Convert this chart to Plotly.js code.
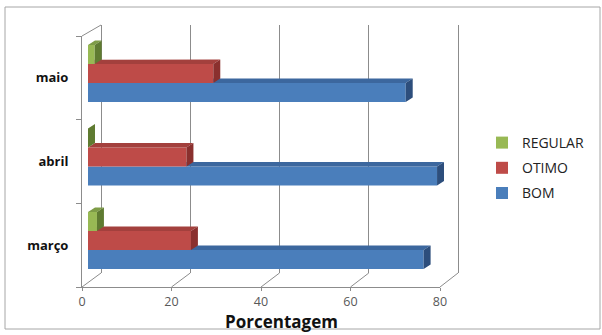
<!DOCTYPE html>
<html><head><meta charset="utf-8">
<script src="https://cdn.plot.ly/plotly-3.0.1.min.js"></script>
<style>html,body{margin:0;padding:0;background:#fff}#chart{width:602px;height:335px}</style>
</head><body><div id="chart"></div>
<script>
// ---- data ----
const categories = ['março', 'abril', 'maio'];
const seriesNames = ['BOM', 'OTIMO', 'REGULAR'];
const bom = [75, 78, 71];
const otimo = [23, 22, 28];
const regular = [2, 0, 1.5];
const xTicks = [0, 20, 40, 60, 80];
const xTitle = 'Porcentagem';

// ---- styling / geometry ----
const W = 602, H = 335;
const px = v => v / W;
const py = v => (H - v) / H;
const FONT = '"Open Sans", "Liberation Sans", sans-serif';

const frontColors = ['#4A7EBB', '#BE4B48', '#98B954'];
const topColors   = ['#3C679E', '#A3403D', '#7E9C47'];
const sideColors  = ['#2D4E7C', '#8A302E', '#5F7B31'];

const series = [bom, otimo, regular];
const nS = series.length;
const barW = 0.2276;
const groupStart = -nS * barW / 2;
const ddx = 1.56, ddy = 0.054;   // bar depth in data units

function clipLeft(poly, a) { // keep x >= a
  const out = [];
  for (let i = 0; i < poly.length; i++) {
    const p = poly[i], q = poly[(i + 1) % poly.length];
    const pin = p[0] >= a, qin = q[0] >= a;
    if (pin) out.push(p);
    if (pin !== qin) {
      const t = (a - p[0]) / (q[0] - p[0]);
      out.push([a, p[1] + t * (q[1] - p[1])]);
    }
  }
  return out;
}

const traces = [];
// empty carrier trace so the back-wall subplot is drawn
traces.push({type: 'scatter', x: [], y: [], xaxis: 'x', yaxis: 'y', showlegend: false, hoverinfo: 'skip'});
// front faces: real bar traces
for (let k = 0; k < nS; k++) {
  traces.push({
    type: 'bar', orientation: 'h', name: seriesNames[k],
    legendgroup: seriesNames[k], legendrank: nS - k,
    x: series[k], y: categories.map((c, i) => i),
    xaxis: 'x2', yaxis: 'y2',
    marker: {color: frontColors[k], line: {width: 0}},
    hoverinfo: 'x+name'
  });
}
// 3D faces
for (let k = 0; k < nS; k++) {
  const tx = [], ty = [], sx = [], sy = [];
  categories.forEach((c, i) => {
    const v = series[k][i];
    const y0 = i + groupStart + k * barW, y1 = y0 + barW;
    let top = [[0, y1], [v, y1], [v + ddx, y1 + ddy], [ddx, y1 + ddy]];
    if (k < nS - 1) top = clipLeft(top, series[k + 1][i]);
    if (top.length) {
      top.forEach(p => { tx.push(p[0]); ty.push(p[1]); });
      tx.push(top[0][0]); ty.push(top[0][1]);
      tx.push(null); ty.push(null);
    }
    const side = [[v, y0], [v, y1], [v + ddx, y1 + ddy], [v + ddx, y0 + ddy], [v, y0]];
    side.forEach(p => { sx.push(p[0]); sy.push(p[1]); });
    sx.push(null); sy.push(null);
  });
  traces.push({type: 'scatter', mode: 'lines', x: tx, y: ty, xaxis: 'x2', yaxis: 'y2',
    fill: 'toself', fillcolor: topColors[k], line: {width: 0}, showlegend: false, hoverinfo: 'skip'});
  traces.push({type: 'scatter', mode: 'lines', x: sx, y: sy, xaxis: 'x2', yaxis: 'y2',
    fill: 'toself', fillcolor: sideColors[k], line: {width: 0}, showlegend: false, hoverinfo: 'skip'});
}
// empty carrier trace so the front-axis subplot is drawn
traces.push({type: 'scatter', x: [], y: [], xaxis: 'x3', yaxis: 'y3', showlegend: false, hoverinfo: 'skip'});

// pixel anchors of the frame
const front = {x0: 82, x1: 440, yb: 287, yt: 36};
const back  = {x0: 101, x1: 458, yb: 273, yt: 25};
const pad = 0.3;
const backUnit = (back.x1 - back.x0) / 80;

const shapes = [];
// floor diagonals
const fUnit = (front.x1 - front.x0) / 80;
xTicks.forEach(t => {
  const fx = front.x0 + t * fUnit, bx = back.x0 + t * backUnit;
  shapes.push({type: 'line', xref: 'paper', yref: 'paper', x0: px(fx), y0: py(front.yb), x1: px(bx), y1: py(back.yb),
    line: {color: '#8c8c8c', width: 1}});
});
// top-left wall diagonal
shapes.push({type: 'line', xref: 'paper', yref: 'paper', x0: px(front.x0), y0: py(front.yt), x1: px(back.x0), y1: py(back.yt),
  line: {color: '#8c8c8c', width: 1}});
// outer border
shapes.push({type: 'rect', xref: 'paper', yref: 'paper', x0: px(5), x1: px(600), y0: py(329), y1: py(7),
  line: {color: '#a6a6a6', width: 1}, layer: 'below'});

const layout = {
  width: W, height: H,
  margin: {l: 0, r: 0, t: 0, b: 0},
  paper_bgcolor: '#ffffff', plot_bgcolor: 'rgba(0,0,0,0)',
  font: {family: FONT},
  barmode: 'group', bargap: 1 - nS * barW, bargroupgap: 0,
  showlegend: true,
  legend: {x: px(482), y: py(127), xanchor: 'left', yanchor: 'top', traceorder: 'grouped',
    tracegroupgap: 4,
    font: {size: 14, color: '#222', family: FONT}, bgcolor: 'rgba(0,0,0,0)', itemclick: false},
  // back wall (gridlines)
  xaxis: {domain: [px(back.x0 - pad * backUnit), px(back.x1 + pad * backUnit)], range: [-pad, 80 + pad],
    anchor: 'y', tickvals: xTicks, showticklabels: false, ticks: '', showgrid: true, gridcolor: '#8c8c8c', gridwidth: 1,
    zeroline: false, showline: false, fixedrange: true},
  yaxis: {domain: [py(back.yb), py(back.yt)], range: [0, 1], anchor: 'x', showgrid: false, showticklabels: false,
    ticks: '', zeroline: false, showline: false, fixedrange: true},
  // bars
  xaxis2: {domain: [px(88), px(88 + 80 * fUnit)], range: [0, 80], anchor: 'y2', visible: false, fixedrange: true},
  yaxis2: {domain: [py(282.25), py(31.75)], range: [-0.5, 2.5], anchor: 'x2', visible: false, fixedrange: true},
  // front axes
  xaxis3: {domain: [px(front.x0), px(front.x1)], range: [0, 80], anchor: 'y3', tickvals: xTicks,
    ticks: 'outside', ticklen: 3, tickcolor: '#8c8c8c', showline: true, linecolor: '#8c8c8c', linewidth: 1,
    showgrid: false, zeroline: false, tickfont: {size: 12.5, color: '#595959', family: FONT}, fixedrange: true},
  yaxis3: {domain: [py(front.yb), py(front.yt)], range: [-0.5, 2.5], anchor: 'x3',
    tickmode: 'array', tickvals: categories.map((c, i) => i), ticktext: categories, ticks: '',
    minor: {tickmode: 'array', tickvals: [-0.5, 0.5, 1.5, 2.5], ticks: 'outside', ticklen: 5, tickcolor: '#8c8c8c'},
    ticklabelstandoff: 10,
    showline: true, linecolor: '#8c8c8c', linewidth: 1, showgrid: false, zeroline: false,
    tickfont: {size: 13, color: '#111', family: FONT, weight: 'bold'}, fixedrange: true},
  shapes: shapes,
  annotations: [{text: xTitle, xref: 'paper', yref: 'paper', x: px(281), y: py(335), xanchor: 'center', yanchor: 'bottom',
    showarrow: false, font: {size: 17, color: '#111', family: FONT, weight: 'bold'}}]
};

Plotly.newPlot('chart', traces, layout, {displayModeBar: false, staticPlot: true});
</script>
</body></html>
